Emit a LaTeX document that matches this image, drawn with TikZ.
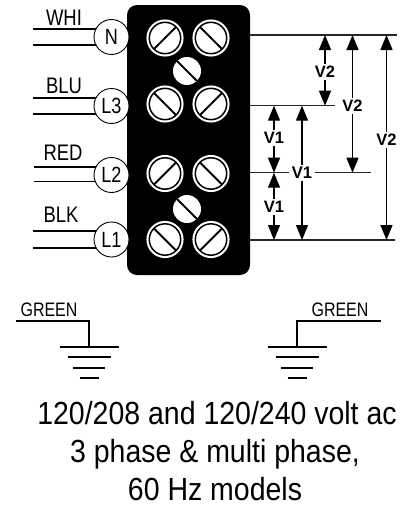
\documentclass[tikz,border=0pt]{standalone}
\usepackage{fontspec}
\setmainfont{Liberation Sans}
\newfontfamily\narrowfont[FakeStretch=0.82]{Liberation Sans}
\newfontfamily\captionfont[FakeStretch=0.89]{Liberation Sans}
\usetikzlibrary{arrows.meta}
\tikzset{
  terminal/.style={circle,draw=black,fill=white,line width=0.9pt,minimum size=35pt,inner sep=0pt,outer sep=0pt,font=\narrowfont\fontsize{22}{22}\selectfont},
  screw/.style={circle,draw=white,fill=white,double=black,double distance=1.5pt,line width=2.1pt,minimum size=31.4pt,inner sep=0pt,outer sep=0pt},
  linkscrew/.style={circle,fill=white,minimum size=28pt,inner sep=0pt,outer sep=0pt},
  slot/.style={line width=1.9pt,line cap=butt},
  wire/.style={line width=1.6pt},
  level/.style={line width=1.3pt,black!85},
  span/.style={line width=1.3pt,{Triangle[length=15pt,width=12pt]}-},
  vlabel/.style={font=\bfseries\fontsize{16.5}{16.5}\selectfont,inner sep=0pt,outer sep=2.5pt,fill=white},
  wirelabel/.style={font=\narrowfont\fontsize{22.5}{22.5}\selectfont,inner sep=0pt,anchor=base},
  groundlabel/.style={font=\narrowfont\fontsize{19.5}{19.5}\selectfont,inner sep=0pt,anchor=base},
  earth/.style={line width=2pt},
  caption/.style={font=\captionfont\fontsize{32}{32}\selectfont,inner sep=0pt,anchor=base}
}
\begin{document}
\begin{tikzpicture}[x=1pt,y=-1pt]
  \useasboundingbox (0,0) rectangle (404,506);
  % terminal block
  \node (block) [fill=black,rounded corners=10pt,minimum width=123pt,minimum height=270pt,inner sep=0pt,outer sep=0pt] at (188.5,140) {};
  \draw
    (111.5,37) node[terminal] (N){N}
    (111.5,106) node[terminal] (L3){L3}
    (111.5,175) node[terminal] (L2){L2}
    (111.5,239.5) node[terminal] (L1){L1};
  % line wires
  \coordinate (whia) at (33,29);
  \coordinate (whib) at (33,45);
  \coordinate (blua) at (33,98);
  \coordinate (blub) at (33,114);
  \coordinate (reda) at (34,167);
  \coordinate (redb) at (34,181.5);
  \coordinate (blka) at (33,231);
  \coordinate (blkb) at (33,248);
  \draw[wire] (whia) -- (whia -| N.153);
  \draw[wire] (whib) -- (whib -| N.207);
  \draw[wire] (blua) -- (blua -| L3.153);
  \draw[wire] (blub) -- (blub -| L3.207);
  \draw[wire] (reda) -- (reda -| L2.153);
  \draw[wire] (redb) -- (redb -| L2.207);
  \draw[wire] (blka) -- (blka -| L1.153);
  \draw[wire] (blkb) -- (blkb -| L1.207);
  \node (whi) [wirelabel] at (64,25) {WHI};
  \node (blu) [wirelabel] at (64,93) {BLU};
  \node (red) [wirelabel] at (63,160.7) {RED};
  \node (blk) [wirelabel] at (61,222.7) {BLK};
  % screws
  \draw
    (165,38) node[screw] (s1){}
    (211,38) node[screw] (s2){}
    (165,104) node[screw] (s3){}
    (211,104) node[screw] (s4){}
    (165,173.5) node[screw] (s5){}
    (211,173.5) node[screw] (s6){}
    (165,239.5) node[screw] (s7){}
    (211,239.5) node[screw] (s8){}
    (187,71) node[linkscrew] (k1){}
    (187,209) node[linkscrew] (k2){};
  \begin{scope}[slot]
    \draw (s1.45) to (s1.225);
    \draw (s2.135) to (s2.315);
    \draw (s3.135) to (s3.315);
    \draw (s4.45) to (s4.225);
    \draw (s5.45) to (s5.225);
    \draw (s6.135) to (s6.315);
    \draw (s7.135) to (s7.315);
    \draw (s8.45) to (s8.225);
    \draw (k1.135) to (k1.315);
    \draw (k2.135) to (k2.315);
  \end{scope}
  % voltage levels
  \coordinate (toplevel) at (250,35);
  \coordinate (secondlevel) at (250,105.7);
  \coordinate (thirdlevel) at (250,172.7);
  \coordinate (lastlevel) at (250,240);
  \draw[level] (toplevel) -- ++(147,0);
  \draw[level] (secondlevel) -- ++(85,0);
  \draw[level] (lastlevel) -- ++(145,0);
  % voltage labels
  \node (va) [vlabel] at (325,72) {V2};
  \node (vb) [vlabel] at (352.5,106) {V2};
  \node (vc) [vlabel] at (386.5,140) {V2};
  \node (vd) [vlabel] at (274,138) {V1};
  \node (ve) [vlabel] at (274,207) {V1};
  \node (vf) [vlabel] at (302,172.7) {V1};
  \draw[level] (thirdlevel) -- (vf);
  \draw[level] (vf) -- ++(69,0);
  \node[vlabel] at (vf) {V1};
  \begin{scope}[span]
    \draw (toplevel -| va) to (va);
    \draw (secondlevel -| va) to (va);
    \draw (toplevel -| vb) to (vb);
    \draw (thirdlevel -| vb) to (vb);
    \draw (toplevel -| vc) to (vc);
    \draw (lastlevel -| vc) to (vc);
    \draw (secondlevel -| vd) to (vd);
    \draw (thirdlevel -| vd) to (vd);
    \draw (thirdlevel -| ve) to (ve);
    \draw (lastlevel -| ve) to (ve);
    \draw (secondlevel -| vf) to (vf);
    \draw (lastlevel -| vf) to (vf);
  \end{scope}
  % grounds
  \coordinate (gla) at (16,321);
  \coordinate (glb) at (89,347);
  \coordinate (gra) at (381,321);
  \coordinate (grb) at (297,347);
  \draw[earth] (gla) -| (glb);
  \draw[earth] (gra) -| (grb);
  \draw[earth] (glb) ++(-29.5,0) -- ++(59,0);
  \draw[earth] (glb) ++(-21.5,10) -- ++(43,0);
  \draw[earth] (glb) ++(-16,21) -- ++(32,0);
  \draw[earth] (glb) ++(-9.5,31) -- ++(19,0);
  \draw[earth] (grb) ++(-29.5,0) -- ++(59,0);
  \draw[earth] (grb) ++(-21.5,10) -- ++(43,0);
  \draw[earth] (grb) ++(-16,21) -- ++(32,0);
  \draw[earth] (grb) ++(-9.5,31) -- ++(19,0);
  \node (gl) [groundlabel] at (49,316.7) {GREEN};
  \node (gr) [groundlabel] at (340,316.7) {GREEN};
  % models
  \node (cap1) [caption] at (217,424) {120/208 and 120/240 volt ac};
  \node (cap2) [caption] at (215,462.5) {3 phase \& multi phase,};
  \node (cap3) [caption] at (215,500.5) {60 Hz models};
\end{tikzpicture}
\end{document}
